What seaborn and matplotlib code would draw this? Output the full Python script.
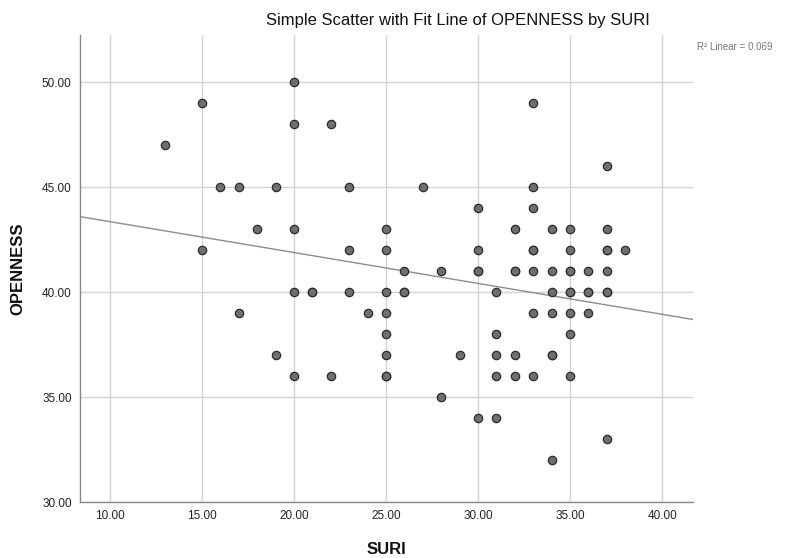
import numpy as np
import pandas as pd
import seaborn as sns
import matplotlib
matplotlib.use("Agg")
import matplotlib.pyplot as plt

suri = [20, 15, 20, 22, 13,
        16, 17, 19, 23, 27,
        18, 20, 25,
        15, 23, 25,
        26,
        33, 37, 33, 30, 33,
        32, 34, 35, 37,
        30, 33, 33, 35, 37, 37, 38,
        28, 30, 30, 32, 32, 33, 34, 35, 35, 36, 37,
        20, 21, 21, 23, 25, 26, 26,
        31, 34, 35, 35, 36, 36, 37, 37,
        17, 24, 25, 33, 34, 35, 36,
        25, 31, 35,
        19, 25, 29, 31, 32, 34, 34,
        20, 22, 25, 25, 31, 32, 33, 35,
        28, 30, 31, 37, 34]
openness = [50, 49, 48, 48, 47,
            45, 45, 45, 45, 45,
            43, 43, 43,
            42, 42, 42,
            41,
            49, 46, 45, 44, 44,
            43, 43, 43, 43,
            42, 42, 42, 42, 42, 42, 42,
            41, 41, 41, 41, 41, 41, 41, 41, 41, 41, 41,
            40, 40, 40, 40, 40, 40, 40,
            40, 40, 40, 40, 40, 40, 40, 40,
            39, 39, 39, 39, 39, 39, 39,
            38, 38, 38,
            37, 37, 37, 37, 37, 37, 37,
            36, 36, 36, 36, 36, 36, 36, 36,
            35, 34, 34, 33, 32]

xticks = [10, 15, 20, 25, 30, 35, 40]
yticks = [30, 35, 40, 45, 50]
title = "Simple Scatter with Fit Line of OPENNESS by SURI"
r2_label = "R² Linear = 0.069"

df = pd.DataFrame({"SURI": suri, "OPENNESS": openness})

sns.set_style("white")
plt.rcParams["font.family"] = ["Liberation Sans", "DejaVu Sans"]

fig = plt.figure(figsize=(7.91, 5.58), dpi=100)
ax = fig.add_axes([80 / 791, 56 / 558, 613 / 791, 467 / 558])
ax.set_xlim(8.37, 41.68)
ax.set_ylim(30, 52.24)

sns.regplot(data=df, x="SURI", y="OPENNESS", ax=ax, ci=None, truncate=False,
            scatter_kws=dict(s=36, color="#6f6f6f", edgecolors="#2b2b2b",
                             linewidths=0.9, alpha=1, zorder=3),
            line_kws=dict(color="#8c8c8c", lw=1.0, zorder=2))

ax.set_xlim(8.37, 41.68)
ax.set_ylim(30, 52.24)
ax.set_xticks(xticks)
ax.set_yticks(yticks)
ax.set_xticklabels([f"{v:.2f}" for v in xticks], fontsize=8.5, color="#222222")
ax.set_yticklabels([f"{v:.2f}" for v in yticks], fontsize=8.5, color="#222222")
ax.tick_params(axis="both", length=0, pad=6)
ax.grid(True, color="#d3d3d3", lw=1.0, zorder=0)
ax.set_axisbelow(True)
for s in ["top", "right"]:
    ax.spines[s].set_visible(False)
for s in ["left", "bottom"]:
    ax.spines[s].set_color("#888888")
    ax.spines[s].set_linewidth(1.0)

ax.set_xlabel("")
ax.set_ylabel("OPENNESS", fontsize=12, fontweight="bold", color="#111111", labelpad=12)
fig.text(386 / 791, 1 - 549 / 558, "SURI", ha="center", va="center",
         fontsize=12, fontweight="bold", color="#111111")

fig.text(458 / 791, 1 - 20 / 558, title, ha="center", va="center",
         fontsize=12, color="#111111")
fig.text(697 / 791, 1 - 47 / 558, r2_label, ha="left", va="center",
         fontsize=7, color="#777777")

fig.savefig("out.png", dpi=100)
